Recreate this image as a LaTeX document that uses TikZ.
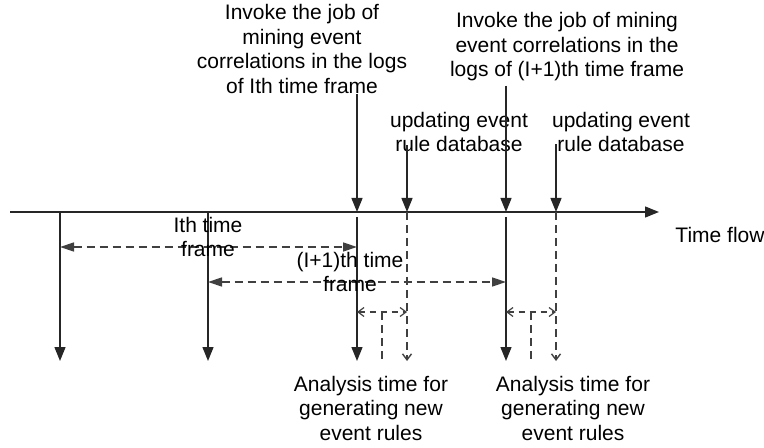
\documentclass[tikz,border=0pt]{standalone}
\usepackage{fontspec}
\setmainfont{Liberation Sans}
\usetikzlibrary{arrows.meta}

\tikzset{
  solidarrow/.style={line width=0.7pt, black!85, -{Triangle[length=7pt,width=5.5pt]}},
  framearrow/.style={line width=0.7pt, black!75, dash pattern=on 4pt off 2.5pt,
    {Triangle[length=7pt,width=4.5pt]}-{Triangle[length=7pt,width=4.5pt]}},
  gaparrow/.style={line width=0.6pt, black!75, dash pattern=on 3pt off 2.5pt,
    {Straight Barb[length=3pt,width=4.5pt]}-{Straight Barb[length=3pt,width=4.5pt]}},
  dashdown/.style={line width=0.7pt, black!75, dash pattern=on 4pt off 2.5pt,
    -{Straight Barb[length=3pt,width=4.5pt]}},
  dashtick/.style={line width=0.7pt, black!75, dash pattern=on 4pt off 2.5pt},
  note/.style={align=center, inner sep=0pt, font=\fontsize{10.5}{12.25}\selectfont}
}

\begin{document}
\begin{tikzpicture}[x=0.5pt,y=-0.5pt]
  \useasboundingbox (0,0) rectangle (764,448);

  % time points on the axis and the lower ends
  \foreach \n/\x in {1/60,2/208,3/357,4/407,5/506,6/556}{
    \coordinate (t\n) at (\x,212);
    \coordinate (b\n) at (\x,361);
  }
  \coordinate (axisstart) at (10,212);
  \coordinate (axisend) at (659,212);
  \coordinate (ithrow) at (0,247);
  \coordinate (nextrow) at (0,282);
  \coordinate (gaprow) at (0,312);

  % time axis
  \draw[solidarrow] (axisstart) -- (axisend);
  \node[note] (flow) at (720,235) {Time flow};

  % texts above the axis
  \node[note] (job1) at (302,49) {Invoke the job of\\mining event\\correlations in the logs\\of Ith time frame};
  \node[note] (job2) at (567,47) {Invoke the job of mining\\event correlations in the\\logs of (I+1)th time frame};
  \node[note] (upd1) at (459,132) {updating event\\rule database};
  \node[note] (upd2) at (621,132) {updating event\\rule database};

  % arrows down onto the axis
  \draw[solidarrow] (t3 |- job1.south) -- (t3);
  \draw[solidarrow] ([yshift=3.5pt]t4 |- upd1.south) -- (t4);
  \draw[solidarrow] ([yshift=-2pt]t5 |- job2.south) -- (t5);
  \draw[solidarrow] ([yshift=4pt]t6 |- upd2.south) -- (t6);

  % lines below the axis
  \draw[solidarrow] (t1) -- (b1);
  \draw[solidarrow] (t2) -- (b2);
  \draw[solidarrow] ([yshift=-2.5pt]t3) -- (b3);
  \draw[dashdown] (t4) -- (b4);
  \draw[solidarrow] ([yshift=-2.5pt]t5) -- (b5);
  \draw[dashdown] (t6) -- (b6);

  % time frames
  \draw[framearrow] (t1 |- ithrow) -- (t3 |- ithrow);
  \node[note] (ith) at (208,237) {Ith time\\frame};
  \draw[framearrow] (t2 |- nextrow) -- (t5 |- nextrow);
  \node[note] (next) at (350,272) {(I+1)th time\\frame};

  % analysis gaps
  \draw[gaparrow] (t3 |- gaprow) -- coordinate[pos=0.5] (g1) (t4 |- gaprow);
  \draw[dashtick] (g1) -- (g1 |- b1);
  \draw[gaparrow] (t5 |- gaprow) -- coordinate[pos=0.5] (g2) (t6 |- gaprow);
  \draw[dashtick] (g2) -- (g2 |- b1);

  \node[note] (ana1) at (371,408) {Analysis time for\\generating new\\event rules};
  \node[note] (ana2) at (573,408) {Analysis time for\\generating new\\event rules};
\end{tikzpicture}
\end{document}
